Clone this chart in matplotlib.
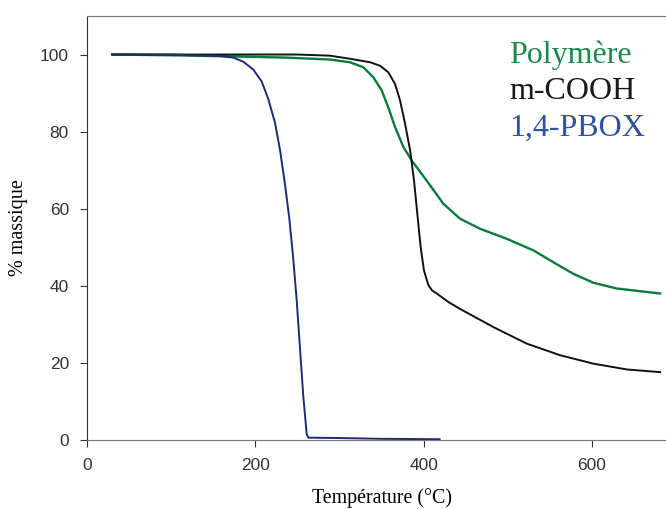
import matplotlib.pyplot as plt

# temperature (degC) / mass %
pbox_t = [30, 100, 158, 174, 186, 197.6, 207.6, 215.5, 223.4, 229.4, 235.3, 240.4, 245.2,
          249.2, 253.1, 257, 261.1, 263, 300, 350, 419]
pbox_m = [100, 100, 99.6, 99.2, 98.1, 96.1, 93, 88.4, 82.3, 75.2, 66.3, 57.5, 46.8,
          36.2, 23.8, 11.4, 1.5, 0.6, 0.5, 0.3, 0.2]

cooh_t = [30, 150, 250, 288.8, 312.5, 336.3, 348.2, 358, 366, 372, 378, 384, 388.6,
          392.5, 396.5, 400.4, 405.6, 410, 415.6, 429.4, 443.3, 482.8, 522.5, 562,
          601.7, 641.4, 681]
cooh_m = [100, 100, 100, 99.7, 98.9, 98, 97.1, 95.4, 92.4, 88.1, 82, 75.1, 67.3,
          58.7, 50, 44, 40.2, 38.8, 38, 35.8, 34, 29.3, 25, 22, 19.8, 18.3, 17.6]

poly_t = [30, 100, 175, 237, 288.8, 312.5, 328.4, 340.2, 350.2, 358, 366, 376, 385.9,
          403.6, 423.4, 443.3, 467, 498.7, 530.4, 554.2, 578, 601.7, 629.4, 681]
poly_m = [100, 99.8, 99.5, 99.2, 98.7, 98, 96.7, 94.1, 90.7, 86.3, 81.2, 76, 72.5,
          67.3, 61.3, 57.4, 54.8, 52.2, 49.2, 46.1, 43.1, 40.8, 39.3, 38]

labels = ['Polymère', 'm-COOH', '1,4-PBOX']
text_colors = ['#1a8a4a', '#1a1a1a', '#2e50a6']

fig = plt.figure(figsize=(6.66, 5.09), dpi=100)
ax = fig.add_axes([0.1306, 0.1356, 0.8694, 0.833])

ax.plot(poly_t, poly_m, color='#0a7a3c', lw=1.7)
ax.plot(cooh_t, cooh_m, color='#111111', lw=1.4)
ax.plot(pbox_t, pbox_m, color='#1f2a78', lw=1.4)

ax.set_xlim(0, 688)
ax.set_ylim(0, 110)
ax.set_xticks([0, 200, 400, 600])
ax.set_yticks([0, 20, 40, 60, 80, 100])
ax.tick_params(direction='out', length=5, labelsize=12.5, labelcolor='#333333',
               colors='#333333', pad=8)
for lab in ax.get_xticklabels() + ax.get_yticklabels():
    lab.set_family('Liberation Sans')

ax.spines['right'].set_visible(False)
ax.spines['top'].set_color('#777777')
ax.spines['bottom'].set_color('#777777')
ax.spines['left'].set_color('#333333')

# axis titles placed in figure coordinates
fig.text(382 / 666, 1 - 498 / 509, 'Température (°C)', family='Liberation Serif',
         fontsize=14.3, ha='center', va='center')
fig.text(19 / 666, 1 - 228 / 509, '% massique', family='Liberation Serif',
         fontsize=14.5, ha='center', va='center', rotation=90)

# coloured text legend
for i, (lab, c) in enumerate(zip(labels, text_colors)):
    ax.text(0.729, 0.907 - i * 0.086, lab, transform=ax.transAxes, color=c,
            family='Liberation Serif', fontsize=23, va='center', ha='left')

fig.savefig('out.png', dpi=100)
